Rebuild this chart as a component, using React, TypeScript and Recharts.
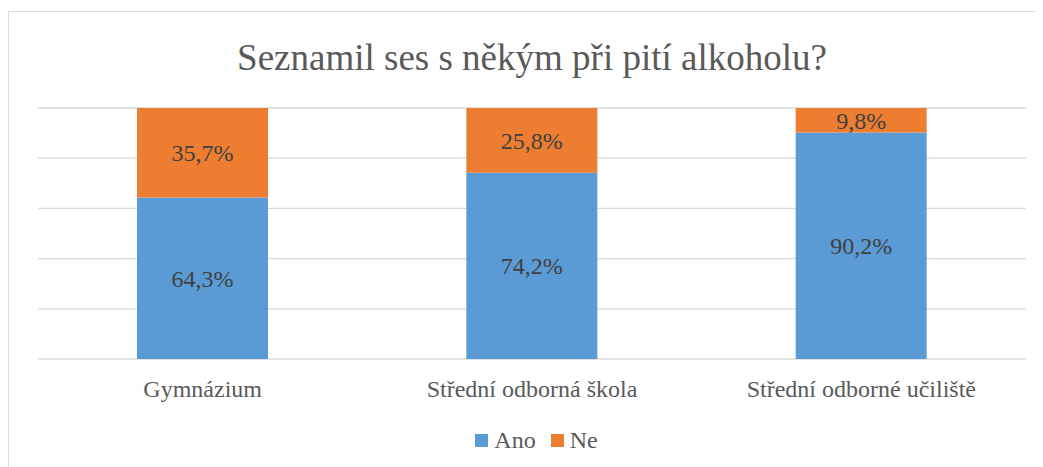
import React from 'react';
import {
  BarChart,
  Bar,
  XAxis,
  YAxis,
  CartesianGrid,
  Legend,
  LabelList,
} from 'recharts';

const categories = ['Gymnázium', 'Střední odborná škola', 'Střední odborné učiliště'];
const anoValues = [64.3, 74.2, 90.2];
const neValues = [35.7, 25.8, 9.8];
const yTicks = [0, 20, 40, 60, 80, 100];

const SERIF = "'Liberation Serif', Tinos, 'Times New Roman', Times, 'Nimbus Roman', 'DejaVu Serif', serif";
const BLUE = '#5B9BD5';
const ORANGE = '#ED7D31';

const data = categories.map((name, i) => ({
  name,
  ano: anoValues[i],
  ne: neValues[i],
}));

const formatPct = (v: any) => `${Number(v).toFixed(1).replace('.', ',')}%`;

// Legend drawn like Excel: small squares with grey text
const LegendContent = ({ payload }: any) => (
  <div
    style={{
      height: 24,
      display: 'flex',
      justifyContent: 'center',
      alignItems: 'center',
      paddingLeft: 9,
      fontFamily: SERIF,
      fontSize: 24,
      color: '#595959',
    }}
  >
    {(payload || []).map((entry: any, i: number) => (
      <div key={i} style={{ display: 'flex', alignItems: 'center', marginLeft: i ? 15 : 0 }}>
        <span style={{ width: 13, height: 13, background: entry.color, marginRight: 6, display: 'inline-block' }} />
        <span>{entry.value}</span>
      </div>
    ))}
  </div>
);

export default function App() {
  return (
    <div
      style={{
        position: 'relative',
        marginTop: 3,
        width: 1035,
        height: 456,
        borderTop: '1px solid #d9d9d9',
        borderLeft: '1px solid #d9d9d9',
        background: '#fff',
      }}
    >
      <div
        style={{
          position: 'absolute',
          left: 29,
          width: 988,
          top: 24,
          textAlign: 'center',
          fontFamily: SERIF,
          fontSize: 37,
          lineHeight: '44px',
          color: '#595959',
        }}
      >
        Seznamil ses s někým při pití alkoholu?
      </div>
      <BarChart
        width={1034}
        height={455}
        data={data}
        margin={{ top: 96, right: 17, left: 29, bottom: 15 }}
      >
        <CartesianGrid vertical={false} stroke="#d9d9d9" strokeWidth={1.3} />
        <YAxis hide domain={[0, 100]} ticks={yTicks} />
        <XAxis
          dataKey="name"
          axisLine={false}
          tickLine={false}
          height={69}
          tickMargin={15}
          tick={{ fill: '#595959', fontSize: 24, fontFamily: SERIF }}
          interval={0}
        />
        <Legend verticalAlign="bottom" content={<LegendContent />} />
        <Bar dataKey="ano" name="Ano" stackId="a" fill={BLUE} barSize={131} isAnimationActive={false}>
          <LabelList
            dataKey="ano"
            position="center"
            formatter={formatPct}
            style={{ fill: '#404040', fontSize: 24, fontFamily: SERIF }}
          />
        </Bar>
        <Bar dataKey="ne" name="Ne" stackId="a" fill={ORANGE} barSize={131} isAnimationActive={false}>
          <LabelList
            dataKey="ne"
            position="center"
            formatter={formatPct}
            style={{ fill: '#404040', fontSize: 24, fontFamily: SERIF }}
          />
        </Bar>
      </BarChart>
    </div>
  );
}
